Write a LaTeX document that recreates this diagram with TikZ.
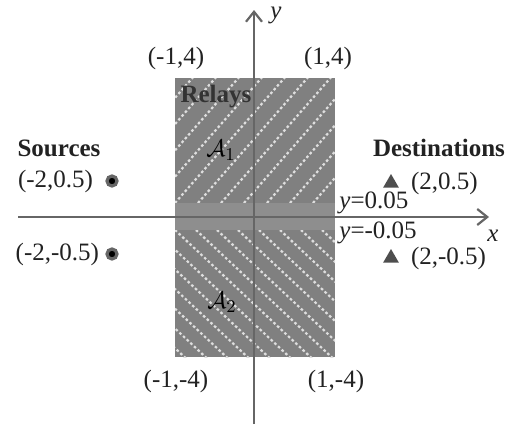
\documentclass[tikz,border=0pt]{standalone}
\usepackage{fontspec}
\setmainfont{Liberation Serif}
\usetikzlibrary{arrows.meta, positioning, shapes.geometric}
\definecolor{relayfill}{HTML}{808080}
\definecolor{bandfill}{HTML}{8E8E8E}
\definecolor{axisline}{HTML}{666666}
\definecolor{hatchline}{HTML}{DEDEDE}
\definecolor{txt}{HTML}{222222}
\tikzset{
  lbl/.style      = {font=\fontsize{12.5}{15}\selectfont, text=txt, inner sep=1pt},
  ttl/.style      = {lbl, font=\fontsize{12.5}{15}\selectfont\bfseries},
  srcdot/.style   = {circle, fill=black, draw=axisline, line width=1.6pt,
                     minimum size=5pt, inner sep=0pt},
  dsttri/.style   = {regular polygon, regular polygon sides=3, fill=txt!80,
                     minimum size=9pt, inner sep=0pt},
  axisarr/.style  = {draw=axisline, line width=1.1pt,
                     -{Straight Barb[length=5pt, width=8pt, line width=1.1pt]}},
  hatch/.style    = {draw=hatchline, line width=1.1pt, dash pattern=on 1.3pt off 1.2pt},
}

\begin{document}
\begin{tikzpicture}[x=0.5pt, y=-0.5pt]
  \useasboundingbox (0,0) rectangle (509,428);
  % relay region with the two hatched halves
  \fill[relayfill] (175,78) rectangle (335,357);
  \begin{scope}
    \clip (175,78) rectangle (335,203);
    \foreach \k in {-8,...,9}
      \draw[hatch] (175+\k*23,203) -- ++(140,-160);
  \end{scope}
  \begin{scope}
    \clip (175,230) rectangle (335,357);
    \foreach \k in {-9,...,9}
      \draw[hatch] (175+\k*21,230) -- ++(160,150);
  \end{scope}
  \fill[bandfill] (175,203) rectangle (335,230);

  % axes
  \coordinate (xs) at (18,217);
  \coordinate (xe) at (489,217);
  \coordinate (ys) at (254,424);
  \coordinate (ye) at (254,10);
  \draw[axisarr] (xs) -- (xe);
  \draw[axisarr] (ys) -- (ye);
  \node[lbl, font=\fontsize{12.5}{15}\selectfont\itshape] (xl) at (493,236) {x};
  \node[lbl, font=\fontsize{12.5}{15}\selectfont\itshape] (yl) at (276,15) {y};

  % corners
  \node[lbl] (c1) at (176,58) {(-1,4)};
  \node[lbl] (c2) at (328,58) {(1,4)};
  \node[lbl] (c3) at (176,381) {(-1,-4)};
  \node[lbl] (c4) at (336,381) {(1,-4)};

  % relays
  \node[ttl, text=black!80] (rel) at (216,97) {Relays};
  \node[lbl, text=black] (a1) at (221,150) {$\mathcal{A}_1$};
  \node[lbl, text=black] (a2) at (222,302) {$\mathcal{A}_2$};
  \node[lbl, anchor=west] (b1) at (337,203) {\textit{y}=0.05};
  \node[lbl, anchor=west] (b2) at (337,233) {\textit{y}=-0.05};

  % sources
  \node[ttl] (src) at (59,148) {Sources};
  \node[srcdot] (s1) at (112,181) {};
  \node[srcdot] (s2) at (112,254) {};
  \node[lbl, left=5pt of s1] (s1l) {(-2,0.5)};
  \node[lbl, left=2pt of s2] (s2l) {(-2,-0.5)};

  % destinations
  \node[ttl] (dst) at (439,148) {Destinations};
  \node[dsttri] (d1) at (391,183) {};
  \node[dsttri] (d2) at (391,258) {};
  \node[lbl, right=6pt of d1] (d1l) {(2,0.5)};
  \node[lbl, right=6pt of d2] (d2l) {(2,-0.5)};
\end{tikzpicture}
\end{document}
